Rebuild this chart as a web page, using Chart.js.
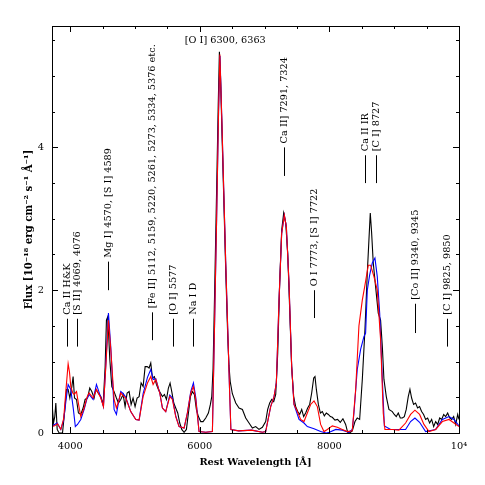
<!DOCTYPE html>
<html><head><meta charset="utf-8">
<script src="https://cdn.jsdelivr.net/npm/chart.js@4.4.1/dist/chart.umd.min.js"></script>
<style>html,body{margin:0;padding:0;background:#fff}</style>
</head><body>
<canvas id="c" width="485" height="485"></canvas>
<script>
// ---- data ----
const blackWave = [3712,3728,3743,3763,3779,3800,3830,3882,3918,3943,3969,3995,4026,4046,4067,4098,4128,4164,4200,4231,4267,4303,4334,4370,4396,4432,4473,4509,4540,4560,4581,4612,4643,4678,4714,4745,4781,4817,4848,4879,4910,4941,4971,5002,5033,5064,5095,5126,5157,5188,5218,5244,5270,5300,5331,5362,5393,5424,5455,5486,5516,5542,5568,5599,5629,5660,5691,5722,5758,5794,5825,5856,5886,5917,5948,5979,6015,6051,6092,6133,6164,6185,6205,6230,6260,6285,6303,6320,6340,6370,6400,6430,6450,6470,6503,6555,6606,6658,6709,6760,6812,6863,6914,6966,7017,7048,7079,7110,7141,7172,7203,7233,7264,7295,7326,7357,7388,7418,7449,7480,7511,7542,7573,7603,7634,7665,7696,7727,7758,7778,7799,7830,7861,7892,7922,7953,7984,8015,8045,8086,8127,8168,8209,8251,8282,8313,8353,8395,8430,8467,8508,8549,8585,8610,8631,8652,8677,8713,8754,8790,8817,8842,8878,8919,8971,9001,9032,9063,9094,9125,9156,9186,9217,9243,9269,9299,9330,9361,9392,9423,9454,9485,9516,9547,9578,9609,9640,9671,9702,9733,9764,9794,9825,9856,9887,9918,9949,9980,10000];
const blackFlux = [0.79,0.33,0.14,0.23,0.42,0.05,0.00,0.00,0.33,0.61,0.61,0.49,0.65,0.79,0.49,0.47,0.28,0.26,0.35,0.47,0.49,0.63,0.58,0.49,0.61,0.56,0.51,0.40,0.93,1.58,1.63,1.03,0.65,0.58,0.49,0.42,0.47,0.54,0.37,0.56,0.58,0.40,0.49,0.37,0.49,0.51,0.70,0.65,0.93,0.93,0.91,0.98,0.77,0.79,0.68,0.61,0.56,0.51,0.54,0.47,0.63,0.70,0.58,0.42,0.35,0.28,0.14,0.05,0.01,0.05,0.28,0.51,0.58,0.54,0.33,0.23,0.16,0.16,0.21,0.28,0.40,0.51,0.9,2.0,3.4,4.6,5.34,5.0,4.3,3.3,2.3,1.4,0.95,0.72,0.55,0.42,0.35,0.33,0.21,0.14,0.07,0.09,0.05,0.08,0.16,0.33,0.42,0.47,0.44,0.54,1.12,2.10,2.84,3.08,2.94,2.52,1.72,0.93,0.51,0.37,0.30,0.26,0.33,0.23,0.28,0.35,0.40,0.56,0.77,0.79,0.61,0.40,0.28,0.30,0.24,0.28,0.26,0.23,0.22,0.18,0.19,0.15,0.20,0.12,0.01,0.00,0.03,0.16,0.21,0.19,0.75,1.45,2.24,2.70,3.08,2.80,2.38,2.05,1.68,1.58,1.21,0.75,0.51,0.33,0.30,0.26,0.23,0.28,0.21,0.21,0.23,0.33,0.51,0.61,0.49,0.40,0.42,0.35,0.37,0.30,0.26,0.19,0.21,0.14,0.19,0.09,0.16,0.12,0.21,0.19,0.26,0.23,0.28,0.21,0.19,0.23,0.12,0.26,0.19];

const redWave = [3712,3760,3805,3856,3900,3935,3969,3990,4010,4040,4062,4098,4130,4164,4216,4260,4293,4355,4406,4473,4514,4550,4591,4627,4678,4714,4750,4781,4820,4858,4935,5013,5064,5126,5193,5244,5280,5321,5383,5424,5475,5537,5578,5629,5681,5758,5809,5861,5902,5938,5989,6092,6195,6230,6260,6290,6310,6340,6370,6400,6430,6460,6480,6600,6800,6966,7017,7094,7146,7182,7223,7264,7305,7336,7377,7418,7454,7506,7557,7608,7660,7711,7763,7814,7865,7917,7968,8045,8122,8199,8276,8353,8405,8456,8508,8549,8600,8636,8688,8739,8790,8831,8857,8970,9073,9176,9253,9320,9392,9459,9537,9640,9743,9846,9923,10000];
const redFlux = [0.09,0.10,0.13,0.05,0.20,0.60,0.97,0.85,0.65,0.56,0.54,0.58,0.40,0.23,0.35,0.50,0.56,0.49,0.61,0.49,0.37,0.93,1.58,1.17,0.47,0.35,0.45,0.56,0.52,0.49,0.30,0.19,0.18,0.51,0.70,0.79,0.68,0.75,0.56,0.35,0.30,0.51,0.47,0.23,0.09,0.07,0.28,0.56,0.65,0.47,0.02,0.01,0.02,1.6,3.0,4.5,5.30,4.4,3.4,2.4,1.5,0.6,0.05,0.03,0.04,0.01,0.02,0.37,0.51,0.70,1.86,2.80,3.05,2.89,2.10,0.93,0.40,0.30,0.19,0.16,0.28,0.40,0.45,0.37,0.12,0.02,0.05,0.10,0.08,0.05,0.02,0.03,0.6,1.5,1.86,2.07,2.35,2.35,2.19,2.00,1.31,0.28,0.05,0.05,0.04,0.14,0.26,0.32,0.26,0.12,0.02,0.05,0.16,0.19,0.14,0.09];

const blueWave = [3712,3760,3800,3856,3900,3935,3969,4010,4050,4080,4113,4164,4216,4260,4293,4355,4406,4473,4514,4550,4591,4627,4678,4714,4750,4781,4820,4858,4935,5013,5064,5126,5193,5244,5280,5321,5383,5424,5475,5537,5578,5629,5681,5758,5809,5861,5902,5938,5989,6092,6195,6230,6260,6290,6312,6340,6370,6400,6430,6460,6480,6600,6800,6966,7017,7094,7146,7182,7223,7264,7305,7336,7377,7418,7454,7532,7608,7660,7763,7865,7950,8000,8100,8200,8300,8354,8379,8430,8482,8533,8559,8585,8621,8662,8703,8739,8776,8817,8848,8945,9073,9176,9253,9320,9392,9485,9640,9743,9846,9923,10000];
const blueFlux = [0.09,0.12,0.14,0.05,0.18,0.45,0.68,0.61,0.33,0.09,0.12,0.19,0.33,0.48,0.54,0.47,0.68,0.50,0.37,0.95,1.68,1.2,0.33,0.26,0.45,0.58,0.55,0.50,0.30,0.19,0.18,0.55,0.78,0.89,0.75,0.76,0.56,0.35,0.30,0.53,0.49,0.24,0.09,0.07,0.28,0.58,0.70,0.50,0.02,0.01,0.02,1.6,3.0,4.5,5.28,4.4,3.4,2.4,1.5,0.6,0.05,0.03,0.04,0.01,0.02,0.37,0.51,0.70,1.86,2.80,3.05,2.89,2.10,0.93,0.40,0.19,0.14,0.09,0.06,0.02,0.00,0.01,0.05,0.04,0.01,0.05,0.28,0.89,1.17,1.35,1.40,2.00,2.21,2.38,2.45,2.19,1.68,0.75,0.10,0.05,0.05,0.05,0.16,0.21,0.15,0.02,0.05,0.19,0.23,0.19,0.10];

const xTickValues = [4000, 6000, 8000, 10000];
const xTickLabels = ['4000', '6000', '8000', '10\u2074'];
const yTickValues = [0, 2, 4];
const yTickLabels = ['0', '2', '4'];

// line identifications: label, wavelength, line top/bottom (flux units)
const annLabels = ['Ca II H&K', '[S II] 4069, 4076', 'Mg I] 4570, [S I] 4589', '[Fe II] 5112, 5159, 5220, 5261, 5273, 5334, 5376 etc.', '[O I] 5577', 'Na I D', 'Ca II] 7291, 7324', 'O I 7773, [S I] 7722', 'Ca II IR', '[C I] 8727', '[Co II] 9340, 9345', '[C I] 9825, 9850'];
const annWave = [3945, 4104, 4584, 5256, 5586, 5896, 7296, 7767, 8544, 8719, 9325, 9809];
const annTop = [1.60, 1.60, 2.40, 1.69, 1.60, 1.60, 4.00, 2.00, 3.89, 3.89, 1.81, 1.60];
const annBottom = [1.21, 1.21, 2.00, 1.30, 1.21, 1.21, 3.60, 1.61, 3.50, 3.50, 1.40, 1.21];
const topLabel = '[O I] 6300, 6363';
const topLabelWave = 6393;
const topLabelFlux = 5.50;

const xMin = 3720, xMax = 10000, yMin = 0, yMax = 5.7;

function pts(w, f) { return w.map((x, i) => ({x: x, y: f[i]})); }

const SERIF = '"DejaVu Serif", "Liberation Serif", serif';

const framePlugin = {
  id: 'frame',
  afterDatasetsDraw(chart) {
    const {ctx, chartArea: a, scales: {x, y}} = chart;
    ctx.save();
    ctx.strokeStyle = '#000';
    ctx.lineWidth = 1;
    ctx.strokeRect(Math.round(a.left) + 0.5, Math.round(a.top) + 0.5, Math.round(a.right - a.left), Math.round(a.bottom - a.top));
    ctx.beginPath();
    for (let v = 4000; v <= xMax; v += 500) {
      const px = Math.round(x.getPixelForValue(v)) + 0.5;
      const len = (v % 2000 === 0) ? 6 : 3;
      ctx.moveTo(px, a.bottom); ctx.lineTo(px, a.bottom - len);
      ctx.moveTo(px, a.top); ctx.lineTo(px, a.top + len);
    }
    for (let v = 0.5; v < yMax; v += 0.5) {
      const py = Math.round(y.getPixelForValue(v)) + 0.5;
      const len = (Math.abs(v % 2) < 1e-6) ? 6 : 3;
      ctx.moveTo(a.left, py); ctx.lineTo(a.left + len, py);
      ctx.moveTo(a.right, py); ctx.lineTo(a.right - len, py);
    }
    ctx.stroke();

    // annotations
    ctx.fillStyle = '#000';
    ctx.font = '9.7px ' + SERIF;
    for (let i = 0; i < annLabels.length; i++) {
      const px = Math.round(x.getPixelForValue(annWave[i])) + 0.5;
      const yt = y.getPixelForValue(annTop[i]);
      const yb = y.getPixelForValue(annBottom[i]);
      ctx.beginPath();
      ctx.moveTo(px, yt); ctx.lineTo(px, yb);
      ctx.stroke();
      ctx.save();
      ctx.translate(px, yt - 4);
      ctx.rotate(-Math.PI / 2);
      ctx.textAlign = 'left';
      ctx.textBaseline = 'middle';
      ctx.fillText(annLabels[i], 0, 0);
      ctx.restore();
    }
    ctx.textAlign = 'center';
    ctx.textBaseline = 'middle';
    ctx.fillText(topLabel, x.getPixelForValue(topLabelWave), y.getPixelForValue(topLabelFlux));
    ctx.restore();
  }
};

new Chart(document.getElementById('c'), {
  type: 'line',
  data: {
    datasets: [
      {data: pts(redWave, redFlux), borderColor: '#ff0000', order: 0},
      {data: pts(blueWave, blueFlux), borderColor: '#0000ff', order: 1},
      {data: pts(blackWave, blackFlux), borderColor: '#000000', order: 2}
    ].map(d => Object.assign(d, {borderWidth: 1.1, pointRadius: 0, tension: 0, fill: false}))
  },
  options: {
    responsive: false,
    animation: false,
    devicePixelRatio: 1,
    layout: {padding: {top: 26, right: 26, left: 0, bottom: 0}},
    plugins: {legend: {display: false}, tooltip: {enabled: false}},
    scales: {
      x: {
        type: 'linear', min: xMin, max: xMax,
        grid: {display: false, drawTicks: false},
        border: {display: false},
        afterBuildTicks(s) { s.ticks = xTickValues.map(v => ({value: v})); },
        afterFit(s) { s.height = 52; },
        ticks: {
          color: '#000', font: {family: SERIF, size: 9.8}, padding: 8, maxRotation: 0, autoSkip: false,
          callback(v) { const i = xTickValues.indexOf(v); return i >= 0 ? xTickLabels[i] : ''; }
        },
        title: {display: true, text: 'Rest Wavelength [\u00c5]', color: '#000', font: {family: SERIF, size: 9.8, weight: 'bold'}, padding: {bottom: 17, top: 0}}
      },
      y: {
        min: yMin, max: yMax,
        grid: {display: false, drawTicks: false},
        border: {display: false},
        afterBuildTicks(s) { s.ticks = yTickValues.map(v => ({value: v})); },
        afterFit(s) { s.width = 52; },
        ticks: {
          color: '#000', font: {family: SERIF, size: 9.8}, padding: 8, autoSkip: false,
          callback(v) { const i = yTickValues.indexOf(v); return i >= 0 ? yTickLabels[i] : ''; }
        },
        title: {display: true, text: 'Flux [10\u207b\u00b9\u2078 erg cm\u207b\u00b2 s\u207b\u00b9 \u00c5\u207b\u00b9]', color: '#000', font: {family: SERIF, size: 10.2, weight: 'bold'}, padding: {top: 23, bottom: 0}}
      }
    }
  },
  plugins: [framePlugin]
});
</script>
</body></html>
